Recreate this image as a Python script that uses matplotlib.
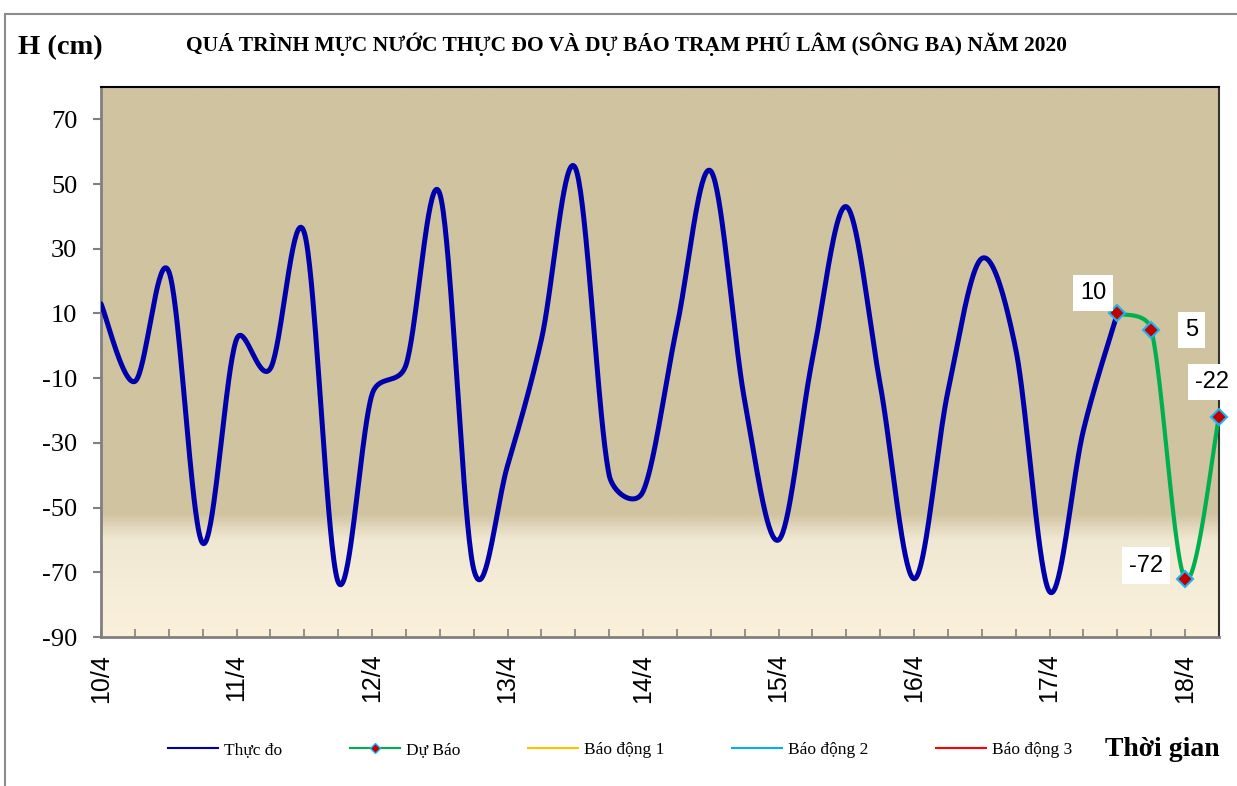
import numpy as np
import matplotlib.pyplot as plt
from matplotlib.patches import Rectangle

# muc nuoc thuc do (cm), moi 6 gio tu 0h ngay 10/4
thuc_do = [13, -11, 23, -61, 2, -7, 35, -73, -15, -6, 47, -69, -37, 2,
           55, -40, -45, 6, 54, -17, -60, -4, 43, -12, -72, -14, 27, -1,
           -76, -26, 10]
# du bao (cm), moi 6 gio tu 12h ngay 17/4
du_bao = [10, 5, -72, -22]

day_labels = ['10/4', '11/4', '12/4', '13/4', '14/4', '15/4', '16/4', '17/4', '18/4']
y_ticks = [-90, -70, -50, -30, -10, 10, 30, 50, 70]

STEP = 0.25  # 6 gio = 1/4 ngay
x_obs = np.arange(len(thuc_do)) * STEP
x_fc = x_obs[-1] + np.arange(len(du_bao)) * STEP

SERIF = ['Liberation Serif', 'DejaVu Serif']
SANS = ['Liberation Sans', 'DejaVu Sans']

# pixel scale of the plot area, used so the smoothing behaves like excel's
PX_X = 135.5
PX_Y = 3.235


def smooth(x, y, n=40):
    # bezier with 1/6 tangents, clamped to half of the segment chord
    p = np.column_stack([np.asarray(x, float) * PX_X, np.asarray(y, float) * PX_Y])
    p = np.vstack([p[:1], p, p[-1:]])
    t = np.linspace(0, 1, n)[:, None]
    out = []
    for i in range(1, len(p) - 2):
        p0, p1 = p[i], p[i + 1]
        chord = np.hypot(*(p1 - p0))
        v = (p[i + 1] - p[i - 1]) / 6
        w = (p[i + 2] - p[i]) / 6
        lim = 0.5 * chord
        if np.hypot(*v) > lim:
            v = v * lim / np.hypot(*v)
        if np.hypot(*w) > lim:
            w = w * lim / np.hypot(*w)
        c1 = p0 + v
        c2 = p1 - w
        seg = ((1 - t) ** 3 * p0 + 3 * (1 - t) ** 2 * t * c1
               + 3 * (1 - t) * t ** 2 * c2 + t ** 3 * p1)
        out.append(seg if i == 1 else seg[1:])
    out = np.vstack(out)
    return out[:, 0] / PX_X, out[:, 1] / PX_Y


fig = plt.figure(figsize=(12.37, 7.86), dpi=100)
ax = fig.add_axes([101 / 1237, 1 - 637 / 786, (1219 - 101) / 1237, (637 - 87) / 786])

# nen gradient
stops_v = [-90, -75, -60, -56, -52, 80]
stops_c = np.array([[251, 240, 218], [246, 237, 216], [240, 232, 210],
                    [226, 215, 188], [208, 195, 160], [208, 195, 160]]) / 255
yy = np.linspace(-90, 80, 500)
grad = np.stack([np.interp(yy, stops_v, stops_c[:, i]) for i in range(3)], axis=-1)[:, None, :]
ax.imshow(grad, extent=[0, 8.25, -90, 80], origin='lower', aspect='auto',
          zorder=0, interpolation='bilinear')

sx, sy = smooth(x_obs, thuc_do)
ax.plot(sx, sy, color='#0000AA', lw=3.6, solid_capstyle='round', zorder=3)
fx, fy = smooth(x_fc, du_bao)
ax.plot(fx, fy, color='#00B050', lw=3.0, zorder=3, clip_on=False)
ax.plot(x_fc, du_bao, ls='none', marker='D', ms=8, mfc='#C00000', mec='#1EB4F0',
        mew=1.5, zorder=4, clip_on=False)

# nhan gia tri du bao
offsets = [(-17.6, 15), (29, 0), (-28, 9.5), (-5, 25)]
for xv, yv, off in zip(x_fc, du_bao, offsets):
    ax.annotate(str(yv), (xv, yv), xytext=off, textcoords='offset points',
                ha='center', va='center', fontsize=17, family=SANS, zorder=5,
                bbox=dict(boxstyle='square,pad=0.3', fc='white', ec='none'),
                annotation_clip=False)

ax.set_xlim(0, 8.25)
ax.set_ylim(-90, 80)
ax.set_yticks(y_ticks)
ax.set_yticklabels([str(v) for v in y_ticks], fontsize=19, family=SERIF)
ax.set_xticks(np.arange(len(day_labels)))
ax.set_xticklabels(day_labels, rotation=90, fontsize=18, family=SANS)
ax.set_xticks(np.arange(0, 8.26, STEP), minor=True)
ax.tick_params(axis='y', direction='out', length=6, width=1.5, color='#808080', pad=11)
ax.tick_params(axis='x', which='both', direction='in', length=6, width=1.2,
               color='#808080', pad=12)

ax.spines['left'].set_color('#808080')
ax.spines['left'].set_linewidth(2)
ax.spines['bottom'].set_color('#808080')
ax.spines['bottom'].set_linewidth(2)
ax.spines['top'].set_color('black')
ax.spines['top'].set_linewidth(1.5)
ax.spines['right'].set_color('#333333')
ax.spines['right'].set_linewidth(1.5)

# legend
ax.plot([], [], color='#0000AA', lw=1.5, label='Thực đo')
ax.plot([], [], color='#00B050', lw=1.5, marker='D', ms=5, mfc='#C00000',
        mec='#1EB4F0', label='Dự Báo')
ax.plot([], [], color='#FFC000', lw=1.5, label='Báo động 1')
ax.plot([], [], color='#00B0F0', lw=1.5, label='Báo động 2')
ax.plot([], [], color='#FF0000', lw=1.5, label='Báo động 3')
handles, labels = ax.get_legend_handles_labels()
fig.legend(handles[-5:], labels[-5:], loc='center left', ncol=5,
           bbox_to_anchor=(168 / 1237, 1 - 750 / 786), frameon=False,
           prop={'family': SERIF, 'size': 12.5}, handlelength=2.9,
           handletextpad=0.35, columnspacing=3.87, borderpad=0, borderaxespad=0)

fig.text(627 / 1237, 1 - 44 / 786,
         'QUÁ TRÌNH MỰC NƯỚC THỰC ĐO VÀ DỰ BÁO TRẠM PHÚ LÂM (SÔNG BA) NĂM 2020',
         ha='center', va='center', fontsize=15.5, fontweight='bold', family=SERIF)
fig.text(18 / 1237, 1 - 48 / 786, 'H (cm)', ha='left', va='center',
         fontsize=20.5, fontweight='bold', family=SERIF)
fig.text(1105 / 1237, 1 - 750 / 786, 'Thời gian', ha='left', va='center',
         fontsize=20, fontweight='bold', family=SERIF)

# khung ngoai
fig.add_artist(Rectangle((5 / 1237, -0.1), 1.2, 1.1 - 14 / 786, transform=fig.transFigure,
                         fill=False, ec='#8C8C8C', lw=1.5))

fig.savefig('out.png', dpi=100)
